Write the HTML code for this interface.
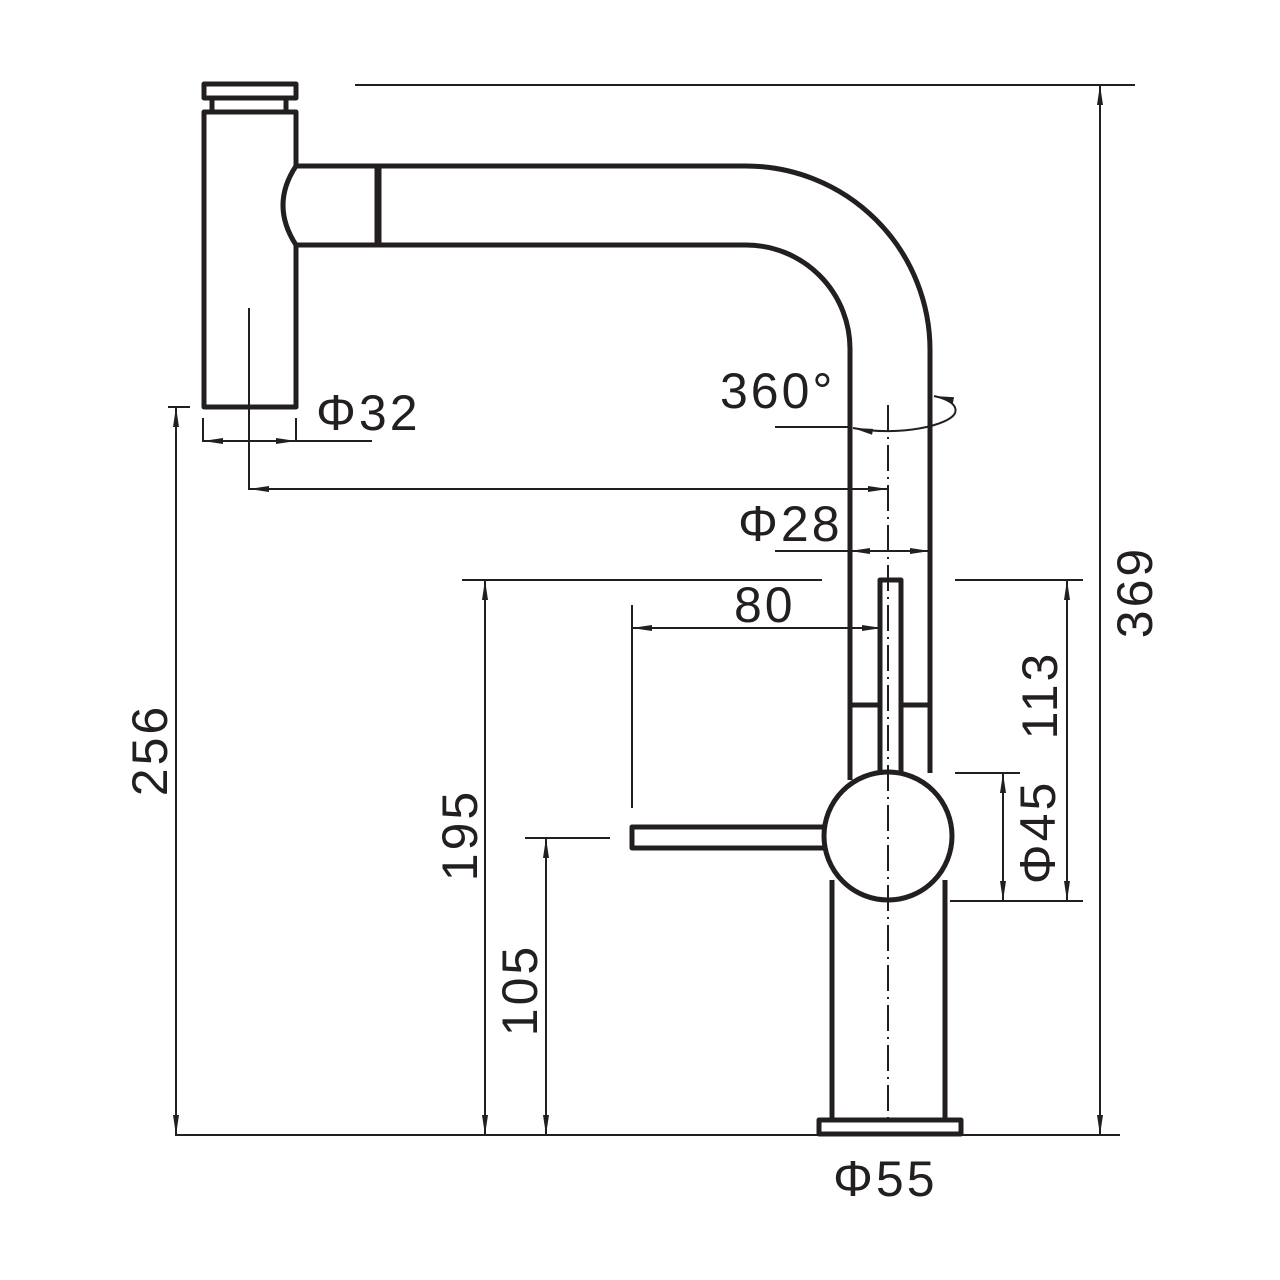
<!DOCTYPE html>
<html><head><meta charset="utf-8"><style>html,body{margin:0;padding:0;background:#fff}svg{display:block}text{font-family:"Liberation Sans",sans-serif;font-size:50px;letter-spacing:3px;fill:#231f20}</style></head>
<body>
<svg width="1280" height="1280" viewBox="0 0 1280 1280" xmlns="http://www.w3.org/2000/svg">
<defs>
<marker id="a" viewBox="0 0 20 8" refX="20" refY="4" markerWidth="20" markerHeight="8" markerUnits="userSpaceOnUse" orient="auto-start-reverse"><path d="M0,1 L20,4 L0,7 z" fill="#231f20"/></marker>
</defs>
<g fill="none" stroke="#231f20" stroke-width="5" stroke-linejoin="round">
<rect x="204" y="84" width="92" height="14"/>
<line x1="212" y1="98" x2="212" y2="112"/><line x1="286" y1="98" x2="286" y2="112"/>
<path d="M296,166 L296,112 L204,112 L204,407 L296,407 L296,245"/>
<path d="M296,166 L746,166 A184,184 0 0 1 930,350 L930,773"/>
<path d="M296,245 L746,245 A104,104 0 0 1 850,350 L850,780"/>
<path d="M296,166 Q270,205 296,245"/>
<line x1="378" y1="166" x2="378" y2="245" stroke-width="7"/>
<path d="M880,775 L880,580 L901,580 L901,775"/>
<line x1="850" y1="705" x2="880" y2="705"/><line x1="901" y1="705" x2="930" y2="705"/>
<circle cx="888" cy="836" r="64"/>
<path d="M832,880 L832,1120 M945,880 L945,1120"/>
<rect x="819" y="1120" width="142" height="14"/>
<path d="M826,827 L632,827 L632,848 L826,848"/>
</g>
<g fill="none" stroke="#231f20" stroke-width="2">
<line x1="888" y1="405" x2="888" y2="1118" stroke-dasharray="26,6,2,6"/>
<line x1="355" y1="85" x2="1135" y2="85"/>
<line x1="175" y1="1135" x2="1120" y2="1135"/>
<line x1="1100" y1="85" x2="1100" y2="1135" marker-start="url(#a)" marker-end="url(#a)"/>
<line x1="168" y1="407" x2="190" y2="407"/>
<line x1="176" y1="407" x2="176" y2="1135" marker-start="url(#a)" marker-end="url(#a)"/>
<line x1="462" y1="580" x2="822" y2="580"/>
<line x1="485" y1="580" x2="485" y2="1135" marker-start="url(#a)" marker-end="url(#a)"/>
<line x1="525" y1="838" x2="610" y2="838"/>
<line x1="546" y1="838" x2="546" y2="1135" marker-start="url(#a)" marker-end="url(#a)"/>
<line x1="632" y1="605" x2="632" y2="808"/>
<line x1="632" y1="628" x2="882" y2="628" marker-start="url(#a)" marker-end="url(#a)"/>
<line x1="203" y1="418" x2="203" y2="442"/><line x1="296" y1="418" x2="296" y2="442"/>
<line x1="203" y1="441" x2="296" y2="441" marker-start="url(#a)" marker-end="url(#a)"/>
<line x1="296" y1="441" x2="372" y2="441"/>
<line x1="249" y1="308" x2="249" y2="490"/>
<line x1="249" y1="489" x2="888" y2="489" marker-start="url(#a)" marker-end="url(#a)"/>
<line x1="775" y1="551" x2="850" y2="551"/>
<line x1="850" y1="551" x2="930" y2="551" marker-start="url(#a)" marker-end="url(#a)"/>
<line x1="775" y1="427" x2="850" y2="427"/>
<path d="M853,428 C900,437 950,425 955,413 C958,405 948,399 934,396" marker-start="url(#a)" marker-end="url(#a)"/>
<line x1="955" y1="580" x2="1083" y2="580"/><line x1="950" y1="901" x2="1083" y2="901"/>
<line x1="1067" y1="580" x2="1067" y2="901" marker-start="url(#a)" marker-end="url(#a)"/>
<line x1="955" y1="773" x2="1020" y2="773"/>
<line x1="1003" y1="773" x2="1003" y2="901" marker-start="url(#a)" marker-end="url(#a)"/>
</g>
<text x="720" y="408">360°</text>
<text x="316" y="430">Φ32</text>
<text x="738" y="541">Φ28</text>
<text x="734" y="622">80</text>
<text x="833" y="1196">Φ55</text>
<g text-anchor="middle" dominant-baseline="central">
<text transform="translate(1135,592) rotate(-90)">369</text>
<text transform="translate(1040,695) rotate(-90)">113</text>
<text transform="translate(1038,832) rotate(-90)">Φ45</text>
<text transform="translate(150,750) rotate(-90)">256</text>
<text transform="translate(460,835) rotate(-90)">195</text>
<text transform="translate(520,990) rotate(-90)">105</text>
</g>
</svg>
</body></html>
